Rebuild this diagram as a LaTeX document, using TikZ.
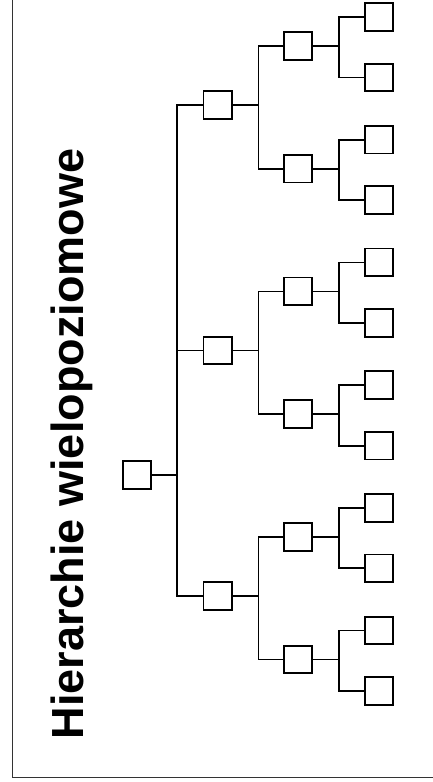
\documentclass[tikz,border=0pt]{standalone}
\usepackage{fontspec}
\setmainfont{Liberation Sans}
\usetikzlibrary{positioning}

\begin{document}
\begin{tikzpicture}[x=1pt, y=-1pt,
  box/.style={draw, line width=1.8pt, minimum width=28.2pt, minimum height=27.7pt, inner sep=0pt},
  link/.style={line width=1.8pt},
  title/.style={font=\bfseries\fontsize{45}{54}\selectfont, rotate=90, anchor=base, inner sep=0pt},
]
\useasboundingbox (0,0) rectangle (433,782);
% Frame
\begin{scope}
  \clip (0,0) rectangle (433,782);
  \draw[line width=1pt, black!80] (12,-20) rectangle (460,777);
\end{scope}
% Title
\node[title] (name) at (83,444) {Hierarchie wielopoziomowe};
% Boxes
\node[box] (root) at (137,475) {};
\foreach \i in {0,1,2} {
  \node[box] (grp\i) at (217.5, 105+\i*245.5) {};
}
\foreach \i in {0,...,5} {
  \node[box] (sub\i) at (298, 46+\i*122.7) {};
  \foreach \j in {0,1} {
    \node[box] (leaf\i\j) at (379, 17+\i*122.7+\j*60.5) {};
  }
}
% Links
\foreach \i [evaluate=\i as \a using int(2*\i), evaluate=\i as \b using int(2*\i+1)] in {0,1,2} {
  \draw[link] (root.east) -- ++(25,0) |- (grp\i.west);
  \draw[link] (grp\i.east) -- ++(26,0) |- (sub\a.west);
  \draw[link] (grp\i.east) -- ++(26,0) |- (sub\b.west);
}
\foreach \i in {0,...,5} {
  \foreach \j in {0,1} {
    \draw[link] (sub\i.east) -- ++(26,0) |- (leaf\i\j.west);
  }
}
\end{tikzpicture}
\end{document}
